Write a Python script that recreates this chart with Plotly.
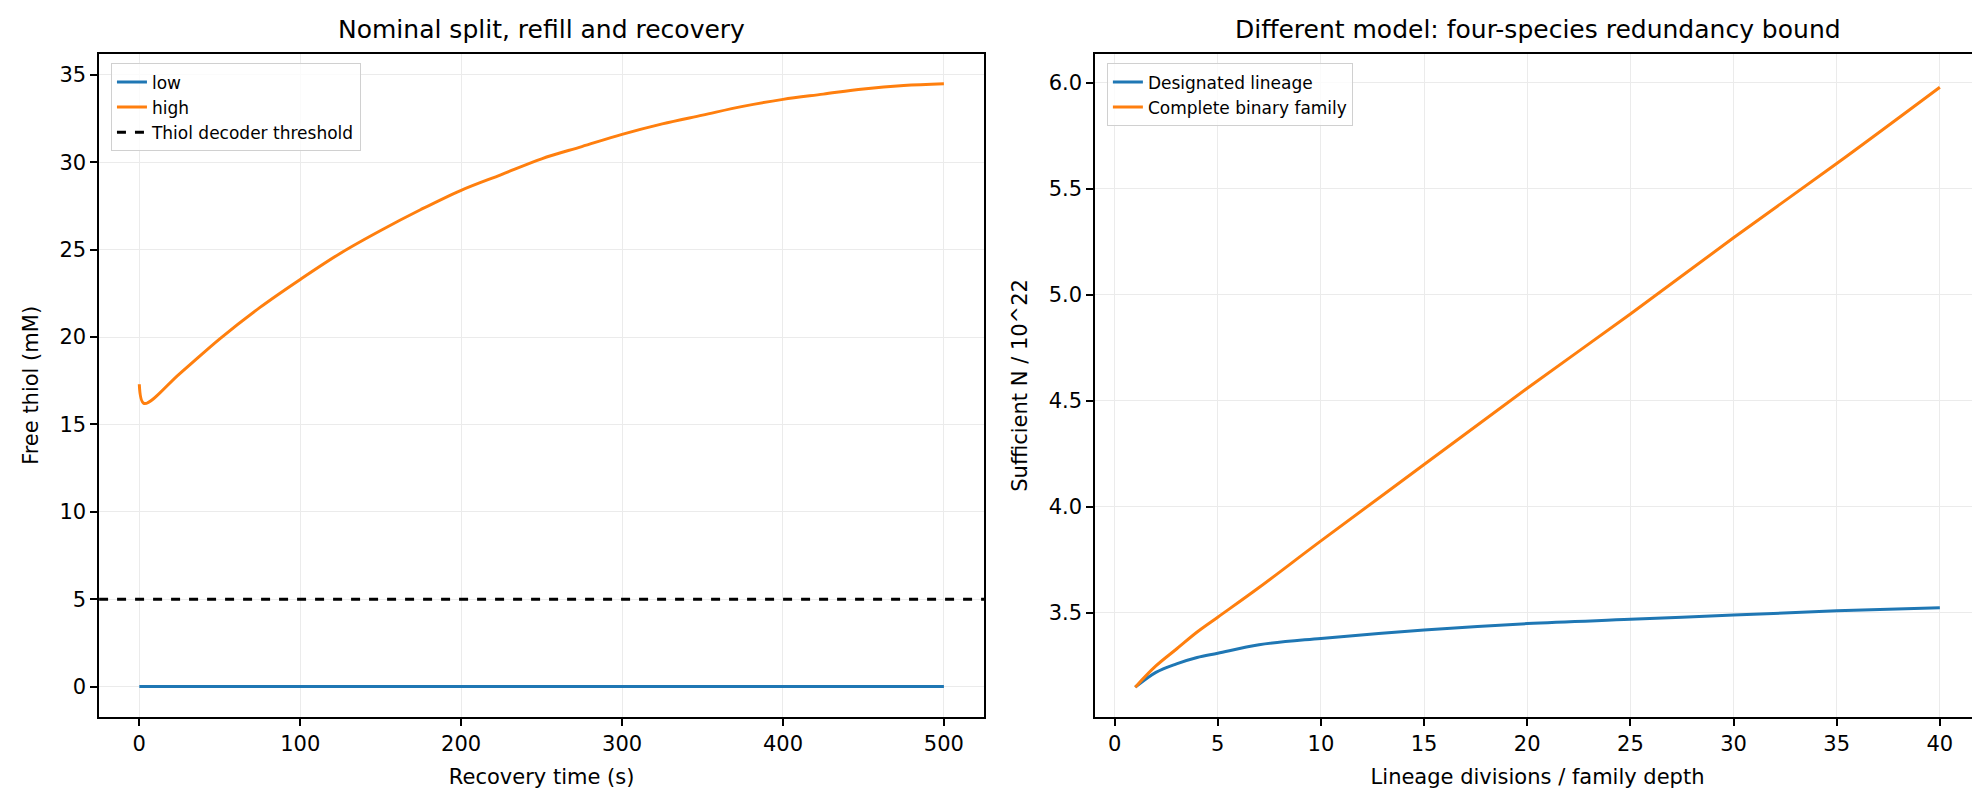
import plotly.graph_objects as go
from plotly.subplots import make_subplots

# Left panel: recovery after split
t_s = [0, 3, 25, 50, 75, 100, 125, 150, 175, 200, 225, 250, 275, 300, 325, 350, 375, 400, 425, 450, 475, 500]
high_mM = [17.3, 16.2, 17.9, 19.9, 21.7, 23.3, 24.8, 26.1, 27.3, 28.4, 29.3, 30.2, 30.9, 31.6, 32.2, 32.7, 33.2, 33.6, 33.9, 34.2, 34.4, 34.5]
low_mM = [0.0] * len(t_s)
threshold_mM = 5

# Right panel: redundancy bound
depth = [1, 2, 3, 4, 5, 7, 10, 15, 20, 25, 30, 35, 40]
lineage_N = [3.15, 3.22, 3.26, 3.29, 3.31, 3.35, 3.38, 3.42, 3.45, 3.47, 3.49, 3.51, 3.525]
family_N = [3.15, 3.25, 3.33, 3.41, 3.48, 3.62, 3.84, 4.2, 4.56, 4.91, 5.27, 5.62, 5.98]

BLUE = "#1f77b4"
ORANGE = "#ff7f0e"
FONT = "DejaVu Sans"

fig = make_subplots(rows=1, cols=2)

fig.add_trace(go.Scatter(x=t_s, y=low_mM, mode="lines", name="low",
                         line=dict(color=BLUE, width=3), legend="legend"), 1, 1)
fig.add_trace(go.Scatter(x=t_s, y=high_mM, mode="lines", name="high", line_shape="spline",
                         line=dict(color=ORANGE, width=3), legend="legend"), 1, 1)
fig.add_trace(go.Scatter(x=[-25, 525], y=[threshold_mM, threshold_mM], mode="lines",
                         name="Thiol decoder threshold",
                         line=dict(color="black", width=3, dash="dash"), legend="legend"), 1, 1)

fig.add_trace(go.Scatter(x=depth, y=lineage_N, mode="lines", name="Designated lineage", line_shape="spline",
                         line=dict(color=BLUE, width=3), legend="legend2"), 1, 2)
fig.add_trace(go.Scatter(x=depth, y=family_N, mode="lines", name="Complete binary family", line_shape="spline",
                         line=dict(color=ORANGE, width=3), legend="legend2"), 1, 2)

axis_style = dict(showline=True, mirror=True, linecolor="black", linewidth=1.5,
                  ticks="outside", ticklen=7, tickwidth=1.5, tickcolor="black",
                  showgrid=True, gridcolor="#ebebeb", zeroline=False,
                  tickfont=dict(size=21, color="black"), title_font=dict(size=21, color="black"))

fig.update_xaxes(axis_style)
fig.update_yaxes(axis_style)
fig.update_xaxes(domain=[0.046, 0.493], range=[-25, 525], dtick=100, title_text="Recovery time (s)", row=1, col=1)
fig.update_yaxes(domain=[0.105, 0.942], range=[-1.73, 36.2], dtick=5, title_text="Free thiol (mM)", row=1, col=1)
fig.update_xaxes(domain=[0.549, 0.996], range=[-0.95, 41.95], dtick=5, title_text="Lineage divisions / family depth", row=1, col=2)
fig.update_yaxes(domain=[0.105, 0.942], range=[3.01, 6.137], tick0=3.5, dtick=0.5, tickformat=".1f",
                 title_text="Sufficient N / 10^22", row=1, col=2)

legend_style = dict(bgcolor="rgba(255,255,255,0.8)", bordercolor="#d0d0d0", borderwidth=1,
                    font=dict(size=17, color="black"), xanchor="left", yanchor="top")
fig.update_layout(
    legend=dict(legend_style, x=0.052, y=0.93),
    legend2=dict(legend_style, x=0.555, y=0.93),
)

fig.add_annotation(text="Nominal split, refill and recovery", x=(0.046 + 0.493) / 2, y=0.952,
                   xref="paper", yref="paper", xanchor="center", yanchor="bottom",
                   showarrow=False, font=dict(size=25, color="black"))
fig.add_annotation(text="Different model: four-species redundancy bound", x=(0.549 + 0.996) / 2, y=0.952,
                   xref="paper", yref="paper", xanchor="center", yanchor="bottom",
                   showarrow=False, font=dict(size=25, color="black"))

fig.update_layout(
    width=1980, height=792,
    margin=dict(l=0, r=0, t=0, b=0),
    plot_bgcolor="white", paper_bgcolor="white",
    font=dict(family=FONT, color="black"),
)

fig.write_html("out.html")
